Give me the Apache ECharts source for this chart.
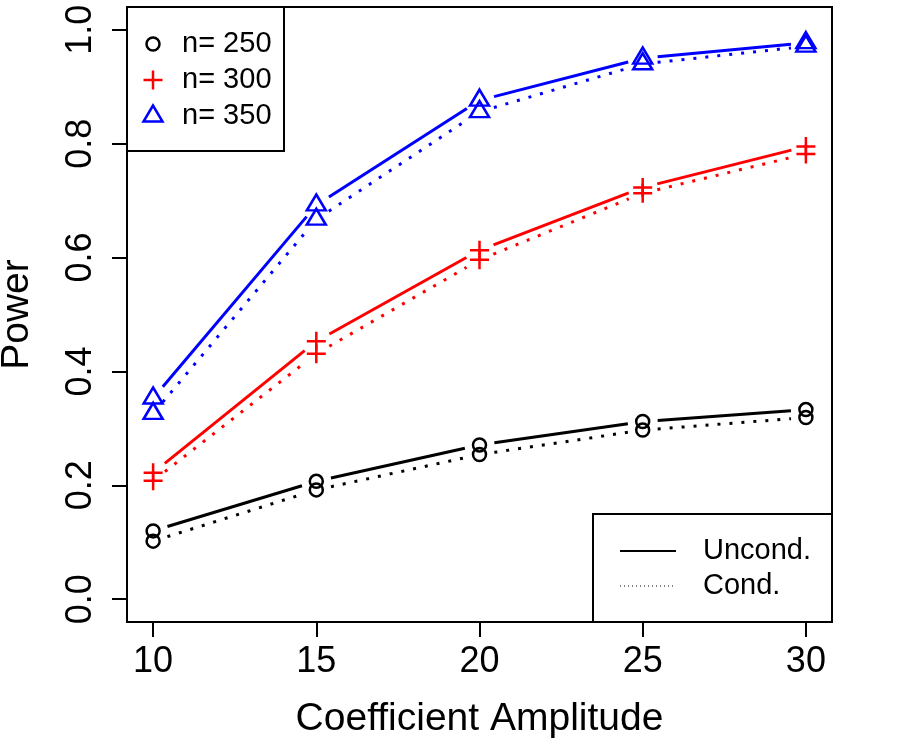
<!DOCTYPE html>
<html>
<head>
<meta charset="utf-8">
<script src="https://cdn.jsdelivr.net/npm/echarts@6/dist/echarts.min.js"></script>
<style>
  html, body { margin: 0; padding: 0; background: #fff; }
  #main { width: 900px; height: 750px; }
</style>
</head>
<body>
<div id="main"></div>
<script>
const amplitudes = [10, 15, 20, 25, 30];
const uncond250 = [0.12, 0.207, 0.271, 0.312, 0.333];
const cond250 = [0.102, 0.192, 0.254, 0.297, 0.319];
const uncond300 = [0.222, 0.453, 0.613, 0.723, 0.795];
const cond300 = [0.208, 0.431, 0.596, 0.713, 0.782];
const uncond350 = [0.353, 0.692, 0.876, 0.95, 0.977];
const cond350 = [0.326, 0.667, 0.856, 0.94, 0.971];
const xTicks = [10, 15, 20, 25, 30];
const yTicks = [0, 0.2, 0.4, 0.6, 0.8, 1.0];
const sizeLabels = ["n= 250", "n= 300", "n= 350"];
const typeLabels = ["Uncond.", "Cond."];

const FONT = "Liberation Sans, Arial, Helvetica, sans-serif";
const GAP = 15; // R type="b" leaves a gap around each point

const crossPath = "path://M0,9.5L19,9.5M9.5,0L9.5,19";

const groups = [
  { label: sizeLabels[0], color: "#000000", symbol: "circle", size: 13, offset: [0, 0], uncond: uncond250, cond: cond250 },
  { label: sizeLabels[1], color: "#ff0000", symbol: crossPath, size: 19, offset: [0, 0], uncond: uncond300, cond: cond300 },
  { label: sizeLabels[2], color: "#0000ff", symbol: "triangle", size: [19, 16], offset: [0, -2.7], uncond: uncond350, cond: cond350 },
];

function pairs(ys) {
  return amplitudes.map((x, i) => [x, ys[i]]);
}

// line segments between points, shortened at both ends
function gappedLine(points, color, dotted) {
  return {
    type: "custom",
    silent: true,
    data: points,
    renderItem: function (params, api) {
      const i = params.dataIndex;
      if (i >= points.length - 1) return null;
      const p0 = api.coord(points[i]);
      const p1 = api.coord(points[i + 1]);
      const dx = p1[0] - p0[0];
      const dy = p1[1] - p0[1];
      const len = Math.sqrt(dx * dx + dy * dy);
      const ux = dx / len;
      const uy = dy / len;
      return {
        type: "line",
        shape: {
          x1: p0[0] + ux * GAP,
          y1: p0[1] + uy * GAP,
          x2: p1[0] - ux * GAP,
          y2: p1[1] - uy * GAP,
        },
        style: {
          stroke: color,
          lineWidth: 3,
          lineDash: dotted ? [3, 9] : null,
        },
      };
    },
  };
}

function pointSeries(g, ys) {
  return {
    type: "scatter",
    silent: true,
    data: pairs(ys),
    symbol: g.symbol,
    symbolSize: g.size,
    symbolOffset: g.offset,
    itemStyle: { color: "none", borderColor: g.color, borderWidth: 2.5, opacity: 1 },
    z: 3,
  };
}

const series = [];
groups.forEach((g) => {
  series.push(gappedLine(pairs(g.uncond), g.color, false));
  series.push(gappedLine(pairs(g.cond), g.color, true));
  series.push(pointSeries(g, g.uncond));
  series.push(pointSeries(g, g.cond));
});

// legend boxes, drawn as in the base R plot
const legendRows = [44, 80, 116];
const legendTop = [
  { type: "rect", shape: { x: 127, y: 7, width: 157, height: 144 }, style: { fill: "#fff", stroke: "#000", lineWidth: 2 }, z: 10 },
  { type: "circle", shape: { cx: 153, cy: legendRows[0], r: 6.5 }, style: { fill: "none", stroke: "#000", lineWidth: 2.5 }, z: 11 },
  { type: "polyline", shape: { points: [[143.5, legendRows[1]], [162.5, legendRows[1]]] }, style: { stroke: "#ff0000", lineWidth: 2.5 }, z: 11 },
  { type: "polyline", shape: { points: [[153, legendRows[1] - 9.5], [153, legendRows[1] + 9.5]] }, style: { stroke: "#ff0000", lineWidth: 2.5 }, z: 11 },
  { type: "polygon", shape: { points: [[153, legendRows[2] - 10.5], [143.5, legendRows[2] + 5.5], [162.5, legendRows[2] + 5.5]] }, style: { fill: "none", stroke: "#0000ff", lineWidth: 2.5 }, z: 11 },
];
sizeLabels.forEach((t, i) => {
  legendTop.push({
    type: "text", x: 182, y: legendRows[i], z: 11,
    style: { text: t, font: "29px " + FONT, fill: "#000", textVerticalAlign: "middle" },
  });
});

const legendBottom = [
  { type: "rect", shape: { x: 593, y: 514, width: 239, height: 108 }, style: { fill: "#fff", stroke: "#000", lineWidth: 2 }, z: 10 },
  { type: "line", shape: { x1: 620, y1: 551, x2: 676, y2: 551 }, style: { stroke: "#000", lineWidth: 2 }, z: 11 },
  { type: "line", shape: { x1: 620, y1: 586, x2: 676, y2: 586 }, style: { stroke: "#000", lineWidth: 1, lineDash: [1, 3] }, z: 11 },
];
typeLabels.forEach((t, i) => {
  legendBottom.push({
    type: "text", x: 703, y: i === 0 ? 551 : 586, z: 11,
    style: { text: t, font: "29px " + FONT, fill: "#000", textVerticalAlign: "middle" },
  });
});

const chart = echarts.init(document.getElementById("main"), null, { renderer: "canvas" });

chart.setOption({
  animation: false,
  backgroundColor: "#ffffff",
  textStyle: { fontFamily: FONT },
  grid: {
    left: 127, right: 68, top: 7, bottom: 128,
    outerBoundsMode: "none",
    containLabel: false,
    show: true, borderColor: "#000", borderWidth: 2, backgroundColor: "transparent",
  },
  xAxis: {
    type: "value",
    min: 9.2,
    max: 30.8,
    name: "Coefficient Amplitude",
    nameLocation: "middle",
    nameGap: 78,
    nameTextStyle: { fontSize: 39, color: "#000", fontFamily: FONT },
    axisLine: { show: false, onZero: false },
    axisTick: { show: true, length: 15, lineStyle: { color: "#000", width: 2 }, customValues: xTicks },
    axisLabel: { fontSize: 36, color: "#000", margin: 22, fontFamily: FONT, customValues: xTicks },
    splitLine: { show: false },
  },
  yAxis: {
    type: "value",
    min: -0.04,
    max: 1.04,
    name: "Power",
    nameLocation: "middle",
    nameGap: 90,
    nameTextStyle: { fontSize: 39, color: "#000", fontFamily: FONT },
    axisLine: { show: false, onZero: false },
    axisTick: { show: true, length: 15, lineStyle: { color: "#000", width: 2 }, customValues: yTicks },
    axisLabel: {
      fontSize: 36, color: "#000", margin: 28, rotate: 90, fontFamily: FONT,
      customValues: yTicks,
      formatter: (v) => v.toFixed(1),
    },
    splitLine: { show: false },
  },
  series: series,
  graphic: legendTop.concat(legendBottom),
});

window.addEventListener("resize", () => chart.resize());
</script>
</body>
</html>
